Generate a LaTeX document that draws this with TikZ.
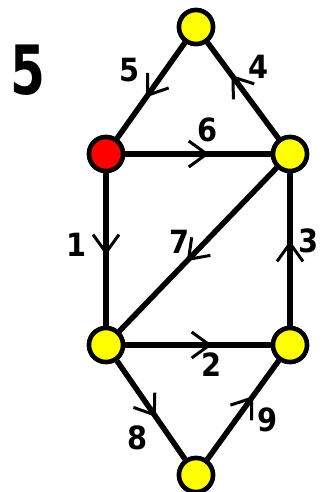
\documentclass[tikz,border=0pt]{standalone}
\usepackage{fontspec}
\newfontfamily\lab{DejaVu Sans Condensed}[BoldFont={DejaVu Sans Condensed Bold}]
\usetikzlibrary{decorations.markings}
\definecolor{vyellow}{RGB}{255,255,0}
\definecolor{vred}{RGB}{255,0,0}
\tikzset{
 vtx/.style={circle, draw=black, line width=4.5pt, minimum size=34pt, inner sep=0pt, fill=vyellow},
 edge/.style={line width=5.5pt},
 arr/.style={postaction={decorate}, decoration={markings, mark=at position #1 with {\draw[line width=3pt, line cap=butt, line join=miter] (-18pt,13pt) -- (0pt,0pt) -- (-18pt,-13pt);}}},
 lbl/.style={font=\lab\bfseries\fontsize{32}{32}\selectfont, inner sep=0pt}
}
\begin{document}
\begin{tikzpicture}[x=1pt,y=-1pt]
\useasboundingbox (0,0) rectangle (321,492);
\node[vtx] (T) at (196,27) {};
\node[vtx, fill=vred] (R) at (106,154) {};
\node[vtx] (U) at (290,154) {};
\node[vtx] (L) at (106,345) {};
\node[vtx] (M) at (290,345) {};
\node[vtx] (B) at (196,475) {};
\draw[edge, arr=0.55] (T) -- (R);
\draw[edge, arr=0.64] (U) -- (T);
\draw[edge, arr=0.56] (R) -- (U);
\draw[edge, arr=0.52] (R) -- (L);
\draw[edge, arr=0.56] (U) -- (L);
\draw[edge, arr=0.54] (M) -- (U);
\draw[edge, arr=0.58] (L) -- (M);
\draw[edge, arr=0.55] (L) -- (B);
\draw[edge, arr=0.62] (B) -- (M);
\node[vtx] at (T) {};
\node[vtx, fill=vred] at (R) {};
\node[vtx] at (U) {};
\node[vtx] at (L) {};
\node[vtx] at (M) {};
\node[vtx] at (B) {};
\node[lbl] (l5) at (130,70) {5};
\node[lbl] (l4) at (259,67) {4};
\node[lbl] (l6) at (208,130) {6};
\node[lbl] (l1) at (77,245) {1};
\node[lbl] (l7) at (180,242) {7};
\node[lbl] (l3) at (309,241) {3};
\node[lbl] (l2) at (212,365) {2};
\node[lbl] (l8) at (138,438) {8};
\node[lbl] (l9) at (268,420) {9};
\node[font=\lab\bfseries\fontsize{68}{68}\selectfont, inner sep=0pt, xscale=0.82] (title) at (28,70) {5};
\end{tikzpicture}
\end{document}
